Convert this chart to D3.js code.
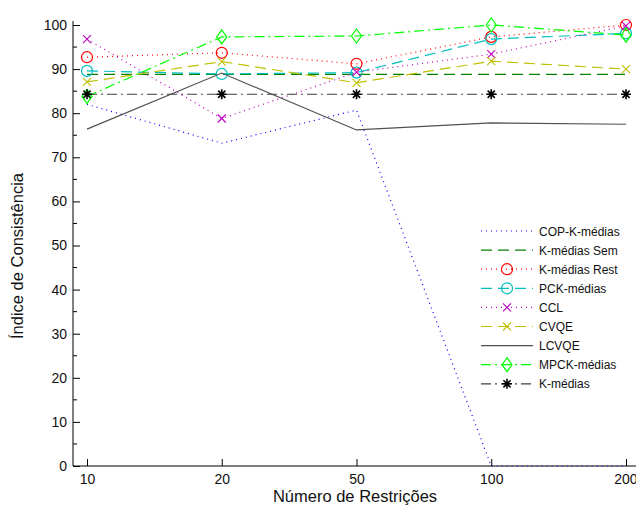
<!DOCTYPE html>
<html>
<head>
<meta charset="utf-8">
<script src="https://cdn.jsdelivr.net/npm/d3@7/dist/d3.min.js"></script>
<style>
  body { margin: 0; background: #fff; }
  svg { display: block; font-family: "Liberation Sans", Arial, sans-serif; }
</style>
</head>
<body>
<svg id="chart" width="636" height="510"></svg>
<script>
// Categories on the x axis (number of constraints)
const categories = ["10", "20", "50", "100", "200"];

// Consistency index per algorithm
const copKmedias   = [82.0, 73.2, 80.7, 0, 0];
const kmediasSem   = [88.8, 88.8, 88.8, 88.8, 88.8];
const kmediasRest  = [92.7, 93.7, 91.2, 97.3, 100];
const pckMedias    = [89.6, 88.9, 89.2, 96.8, 98.1];
const ccl          = [96.8, 78.8, 89.3, 93.4, 99.8];
const cvqe         = [87.1, 91.7, 86.9, 91.8, 90.0];
const lcvqe        = [76.4, 89.1, 76.2, 77.8, 77.5];
const mpckMedias   = [83.8, 97.3, 97.5, 100, 97.7];
const kmedias      = [84.3, 84.3, 84.3, 84.3, 84.3];

const yTicks = [0, 10, 20, 30, 40, 50, 60, 70, 80, 90, 100];
const yMinorTicks = [5, 15, 25, 35, 45, 55, 65, 75, 85, 95];

const series = [
  { name: "COP-K-médias", values: copKmedias,  color: "#0000ff", dash: "1,4",       marker: null },
  { name: "K-médias Sem", values: kmediasSem,  color: "#008000", dash: "11,6",      marker: null },
  { name: "K-médias Rest", values: kmediasRest, color: "#ff0000", dash: "1,4",      marker: "circle" },
  { name: "PCK-médias",   values: pckMedias,   color: "#00bfbf", dash: "11,6",      marker: "circle" },
  { name: "CCL",          values: ccl,         color: "#bf00bf", dash: "1,4",       marker: "x" },
  { name: "CVQE",         values: cvqe,        color: "#bfbf00", dash: "11,6",      marker: "x" },
  { name: "LCVQE",        values: lcvqe,       color: "#505050", dash: null,        marker: null },
  { name: "MPCK-médias",  values: mpckMedias,  color: "#00ff00", dash: "10,4,2,4",  marker: "diamond" },
  { name: "K-médias",     values: kmedias,     color: "#404040", dash: "10,4,2,4",  marker: "star", markerColor: "#000" }
];

const svg = d3.select("#chart");

const x = d3.scalePoint().domain(categories).range([87, 626]);
const y = d3.scaleLinear().domain([0, 100]).range([466, 25]);
const xLeft = 73, xRight = 640;

// Axes
const yAxis = d3.axisLeft(y).tickValues(yTicks).tickSize(-7).tickPadding(6).tickFormat(d3.format("d"));
const gy = svg.append("g").attr("transform", `translate(${xLeft},0)`).call(yAxis);
gy.select(".domain").remove();
gy.selectAll("line").attr("stroke", "#000");
gy.selectAll("text").attr("font-size", 14).attr("fill", "#111");

svg.append("g").selectAll("line").data(yMinorTicks).join("line")
  .attr("x1", xLeft).attr("x2", xLeft + 4)
  .attr("y1", d => y(d)).attr("y2", d => y(d))
  .attr("stroke", "#000");

svg.append("line").attr("x1", xLeft).attr("x2", xLeft)
  .attr("y1", 21).attr("y2", y(0)).attr("stroke", "#000");

const xAxis = d3.axisBottom(x).tickSize(-7).tickPadding(8);
const gx = svg.append("g").attr("transform", `translate(0,${y(0)})`).call(xAxis);
gx.select(".domain").remove();
gx.selectAll("line").attr("stroke", "#000");
gx.selectAll("text").attr("font-size", 14).attr("fill", "#111");
// last label sits against the right edge
gx.selectAll("text").filter(d => d === "200").attr("text-anchor", "end").attr("dx", 11);

svg.append("line").attr("x1", xLeft).attr("x2", xRight)
  .attr("y1", y(0)).attr("y2", y(0)).attr("stroke", "#000");

// Axis titles
svg.append("text").attr("x", 355).attr("y", 502).attr("text-anchor", "middle")
  .attr("font-size", 16.5).attr("fill", "#111").text("Número de Restrições");
svg.append("text").attr("transform", "translate(23,256) rotate(-90)")
  .attr("text-anchor", "middle").attr("font-size", 16.5).attr("fill", "#111")
  .text("Índice de Consistência");

// Marker drawing
function drawMarker(g, type, cx, cy, color) {
  if (type === "circle") {
    g.append("circle").attr("cx", cx).attr("cy", cy).attr("r", 5.5)
      .attr("fill", "none").attr("stroke", color).attr("stroke-width", 1.2);
  } else if (type === "x") {
    const s = 4;
    g.append("path").attr("d", `M${cx - s},${cy - s}L${cx + s},${cy + s}M${cx - s},${cy + s}L${cx + s},${cy - s}`)
      .attr("stroke", color).attr("stroke-width", 1.1).attr("fill", "none");
  } else if (type === "diamond") {
    g.append("path").attr("d", `M${cx},${cy - 7}L${cx + 5},${cy}L${cx},${cy + 7}L${cx - 5},${cy}Z`)
      .attr("fill", "none").attr("stroke", color).attr("stroke-width", 1.2);
  } else if (type === "star") {
    const s = 5, d = 3.6;
    g.append("path").attr("d",
      `M${cx - s},${cy}L${cx + s},${cy}M${cx},${cy - s}L${cx},${cy + s}` +
      `M${cx - d},${cy - d}L${cx + d},${cy + d}M${cx - d},${cy + d}L${cx + d},${cy - d}`)
      .attr("stroke", color).attr("stroke-width", 1.6).attr("fill", "none");
  }
}

const line = d3.line().x((d, i) => x(categories[i])).y(d => y(d));

const plot = svg.append("g");
series.forEach(s => {
  const g = plot.append("g");
  g.append("path").datum(s.values).attr("d", line)
    .attr("fill", "none").attr("stroke", s.color).attr("stroke-width", 1.2)
    .attr("stroke-dasharray", s.dash);
  if (s.marker) {
    s.values.forEach((v, i) => drawMarker(g, s.marker, x(categories[i]), y(v), s.markerColor || s.color));
  }
});

// Legend
const legend = svg.append("g");
series.forEach((s, i) => {
  const ly = 231 + i * 19.1;
  const g = legend.append("g");
  g.append("line").attr("x1", 481).attr("x2", 533).attr("y1", ly).attr("y2", ly)
    .attr("stroke", s.color).attr("stroke-width", 1.2).attr("stroke-dasharray", s.dash);
  if (s.marker) drawMarker(g, s.marker, 507, ly, s.markerColor || s.color);
  g.append("text").attr("x", 539).attr("y", ly + 4.5).attr("font-size", 12)
    .attr("fill", "#111").text(s.name);
});
</script>
</body>
</html>
